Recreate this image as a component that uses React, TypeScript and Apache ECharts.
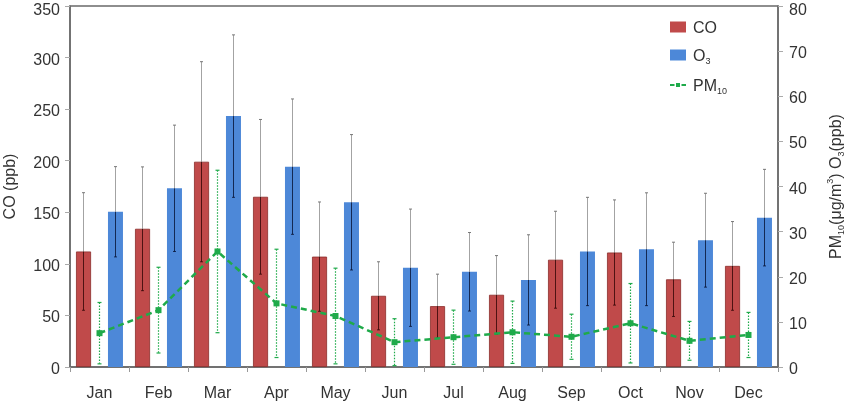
import React, { useEffect, useRef } from 'react';
import * as echarts from 'echarts';

const months = ['Jan', 'Feb', 'Mar', 'Apr', 'May', 'Jun', 'Jul', 'Aug', 'Sep', 'Oct', 'Nov', 'Dec'];
const coMean = [112, 134, 199, 165, 107, 69, 59, 70, 104, 111, 85, 98];
const coSd = [57, 60, 97, 75, 53, 33, 31, 38, 47, 51, 36, 43];
const o3Mean = [34.4, 39.6, 55.6, 44.4, 36.5, 22.0, 21.1, 19.3, 25.6, 26.1, 28.1, 33.1];
const o3Sd = [10.0, 14.0, 18.0, 15.0, 15.0, 13.0, 8.7, 10.0, 12.0, 12.5, 10.4, 10.7];
const pmMean = [7.5, 12.6, 25.6, 14.1, 11.3, 5.5, 6.6, 7.7, 6.7, 9.7, 5.8, 7.1];
const pmSd = [6.8, 9.5, 18.0, 12.0, 10.6, 5.2, 6.0, 6.9, 5.0, 8.8, 4.3, 5.0];

const FONT = '"Liberation Sans", Arial, Helvetica, sans-serif';
const TXT = '#333';
const AXIS = '#6a6a6a';
const RED = '#c04a4a';
const BLUE = '#4d88d8';
const GREEN = '#1faa4a';
const BAR_W = 15;
const BAR_OFF = 16;

const barErr = (offset: number, inColor: string) => (params: any, api: any) => {
  const i = api.value(0);
  const m = api.value(1);
  const s = api.value(2);
  const pTop = api.coord([i, m + s]);
  const pMid = api.coord([i, m]);
  const pBot = api.coord([i, m - s]);
  const x = pMid[0] + offset;
  const cap = 1.5;
  return {
    type: 'group',
    children: [
      { type: 'line', shape: { x1: x, y1: pTop[1], x2: x, y2: pMid[1] }, style: { stroke: '#a3a3a3', lineWidth: 1 } },
      { type: 'line', shape: { x1: x, y1: pMid[1], x2: x, y2: pBot[1] }, style: { stroke: inColor, lineWidth: 1 } },
      { type: 'line', shape: { x1: x - cap, y1: pTop[1], x2: x + cap, y2: pTop[1] }, style: { stroke: '#777', lineWidth: 1 } },
      { type: 'line', shape: { x1: x - cap, y1: pBot[1], x2: x + cap, y2: pBot[1] }, style: { stroke: inColor, lineWidth: 1 } },
    ],
  };
};

const pmErr = (params: any, api: any) => {
  const i = api.value(0);
  const m = api.value(1);
  const s = api.value(2);
  const pTop = api.coord([i, m + s]);
  const pBot = api.coord([i, Math.max(0, m - s)]);
  const x = pTop[0];
  const cap = 2;
  const st = { stroke: GREEN, lineWidth: 1.2 };
  return {
    type: 'group',
    children: [
      { type: 'line', shape: { x1: x, y1: pTop[1], x2: x, y2: pBot[1] }, style: { ...st, lineDash: [1.5, 1.5] } },
      { type: 'line', shape: { x1: x - cap, y1: pTop[1], x2: x + cap, y2: pTop[1] }, style: st },
      { type: 'line', shape: { x1: x - cap, y1: pBot[1], x2: x + cap, y2: pBot[1] }, style: st },
    ],
  };
};

const rich = {
  n: { fontSize: 16, lineHeight: 20, fontFamily: FONT, color: TXT },
  s: { fontSize: 9, lineHeight: 9, verticalAlign: 'bottom', fontFamily: FONT, color: TXT },
  p: { fontSize: 9, lineHeight: 9, verticalAlign: 'top', fontFamily: FONT, color: TXT },
};

const tickRich = {
  d: { fontSize: 16, lineHeight: 18, padding: [3, 0, 0, 0], fontFamily: FONT, color: TXT },
  t: { fontSize: 16, lineHeight: 18, padding: [6, 0, 0, 0], fontFamily: FONT, color: TXT },
};
const tickFmt = (top: number) => (v: number) => (v === top ? `{t|${v}}` : `{d|${v}}`);

export default function App() {
  const ref = useRef<HTMLDivElement>(null);
  useEffect(() => {
    if (!ref.current) return;
    const chart = echarts.init(ref.current, undefined, { renderer: 'svg' });
    const option: any = {
      animation: false,
      textStyle: { fontFamily: FONT },
      grid: {
        left: 70, right: 67, top: 6, bottom: 35,
        outerBoundsMode: 'none', containLabel: false,
        show: true, borderColor: AXIS, borderWidth: 1.5, backgroundColor: 'transparent',
      },
      legend: {
        orient: 'vertical',
        left: 665,
        top: 14,
        itemWidth: 16,
        itemHeight: 11,
        itemGap: 12,
        data: [
          { name: 'CO', icon: 'rect', itemStyle: { borderWidth: 0 } },
          { name: 'O3', icon: 'rect' },
          { name: 'PM10', icon: 'path://M0,1h4.5v2h-4.5z M6,0h4v4h-4z M11.5,1h4.5v2h-4.5z' },
        ],
        formatter: (name: string) =>
          name === 'O3' ? '{n|O}{s|3}' : name === 'PM10' ? '{n|PM}{s|10}' : '{n|CO}',
        textStyle: { rich, padding: [0, 0, 0, 2] },
      },
      xAxis: {
        type: 'category',
        data: months,
        boundaryGap: true,
        axisLine: { lineStyle: { color: AXIS, width: 1.5 } },
        axisTick: { show: true, interval: 0, length: 5, lineStyle: { color: '#999' } },
        axisLabel: { color: TXT, fontSize: 16, fontFamily: FONT, margin: 17, interval: 0 },
        splitLine: { show: false },
      },
      yAxis: [
        {
          type: 'value',
          min: 0,
          max: 350,
          interval: 50,
          name: 'CO (ppb)',
          nameLocation: 'middle',
          nameGap: 53,
          nameTextStyle: { fontSize: 16, color: TXT, fontFamily: FONT },
          axisLine: { show: true, lineStyle: { color: AXIS, width: 1.5 } },
          axisTick: { show: true, length: 5, lineStyle: { color: '#aaa' } },
          axisLabel: { color: TXT, fontSize: 16, fontFamily: FONT, margin: 10, formatter: tickFmt(350), rich: tickRich },
          splitLine: { show: false },
        },
        {
          type: 'value',
          min: 0,
          max: 80,
          interval: 10,
          position: 'right',
          name: '{n|PM}{s|10}{n|(μg/m}{p|3}{n|) O}{s|3}{n|(ppb)}',
          nameLocation: 'middle',
          nameGap: 47,
          nameRotate: 90,
          nameTextStyle: { rich, fontSize: 16, color: TXT, fontFamily: FONT },
          axisLine: { show: true, lineStyle: { color: AXIS, width: 1.5 } },
          axisTick: { show: true, length: 5, lineStyle: { color: '#aaa' } },
          axisLabel: { color: TXT, fontSize: 16, fontFamily: FONT, margin: 11, formatter: tickFmt(80), rich: tickRich },
          splitLine: { show: false },
        },
      ],
      series: [
        {
          name: 'CO',
          type: 'bar',
          yAxisIndex: 0,
          data: coMean,
          barWidth: BAR_W,
          barGap: '113%',
          itemStyle: { color: RED, borderColor: '#8a2c2a', borderWidth: 0.8 },
          z: 2,
        },
        {
          name: 'O3',
          type: 'bar',
          yAxisIndex: 1,
          data: o3Mean,
          barWidth: BAR_W,
          barGap: '113%',
          itemStyle: { color: BLUE },
          z: 2,
        },
        {
          type: 'custom',
          yAxisIndex: 0,
          renderItem: barErr(-BAR_OFF, 'rgba(40,0,0,0.75)'),
          data: coMean.map((m, i) => [i, m, coSd[i]]),
          z: 3,
          silent: true,
        },
        {
          type: 'custom',
          yAxisIndex: 1,
          renderItem: barErr(BAR_OFF, 'rgba(0,10,40,0.75)'),
          data: o3Mean.map((m, i) => [i, m, o3Sd[i]]),
          z: 3,
          silent: true,
        },
        {
          type: 'custom',
          yAxisIndex: 1,
          renderItem: pmErr,
          data: pmMean.map((m, i) => [i, m, pmSd[i]]),
          z: 4,
          silent: true,
        },
        {
          name: 'PM10',
          type: 'line',
          yAxisIndex: 1,
          data: pmMean,
          symbol: 'rect',
          symbolSize: 6,
          lineStyle: { color: GREEN, width: 2.5, type: [6, 4] },
          itemStyle: { color: GREEN },
          z: 5,
        },
      ],
    };
    chart.setOption(option);
    return () => chart.dispose();
  }, []);
  return <div ref={ref} style={{ position: 'fixed', left: 0, top: 0, width: 845, height: 402 }} />;
}
